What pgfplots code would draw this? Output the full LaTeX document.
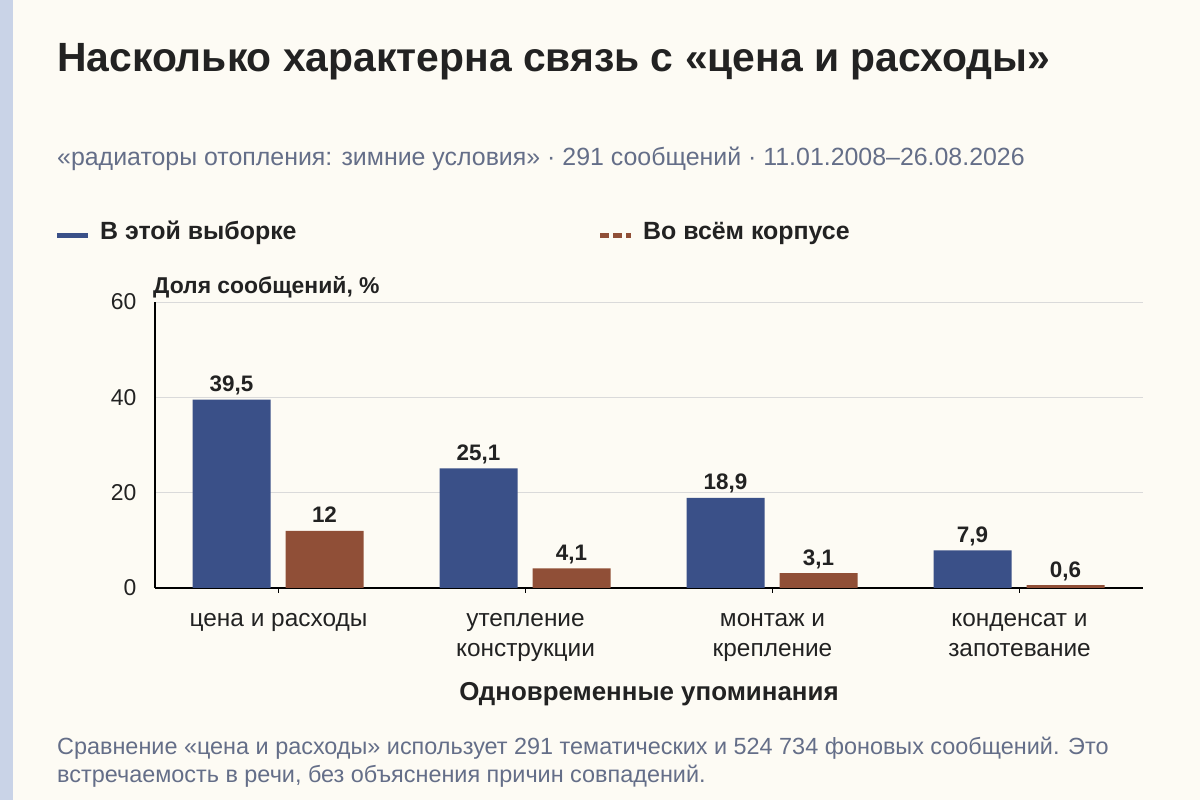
\documentclass[border=0pt]{standalone}
\usepackage{pgfplots}
\pgfplotsset{compat=1.18}
\usepackage{fontspec}
\setmainfont{Liberation Sans}
\definecolor{bg}{HTML}{FDFBF4}
\definecolor{stripe}{HTML}{C9D3E7}
\definecolor{cblue}{HTML}{3A5088}
\definecolor{cbrown}{HTML}{904F37}
\definecolor{txt}{HTML}{222222}
\definecolor{sub}{HTML}{646E88}
\definecolor{gridc}{HTML}{DADADA}
\begin{document}
\begin{tikzpicture}[x=1bp,y=1bp]
\useasboundingbox (0,0) rectangle (1200bp,800bp);
\fill[bg] (0,0) rectangle (1200bp,800bp);
\fill[stripe] (0,0) rectangle (13bp,800bp);
\node[anchor=base west, inner sep=0, text=txt] at (57bp,728bp) {\fontsize{41}{48}\selectfont\bfseries Насколько характерна связь с «цена и расходы»};
\node[anchor=base west, inner sep=0, text=sub] at (57bp,634bp) {\fontsize{25}{30}\selectfont «радиаторы отопления: зимние условия» · 291 сообщений · 11.01.2008–26.08.2026};
\draw[cblue, line width=5bp] (57bp,564bp) -- (88bp,564bp);
\node[anchor=base west, inner sep=0, text=txt] at (100bp,560bp) {\fontsize{25}{30}\selectfont\bfseries В этой выборке};
\draw[cbrown, line width=5bp, dash pattern=on 9bp off 4bp] (600bp,564bp) -- (631bp,564bp);
\node[anchor=base west, inner sep=0, text=txt] at (643bp,560bp) {\fontsize{25}{30}\selectfont\bfseries Во всём корпусе};
\node[anchor=base west, inner sep=0, text=txt] at (153bp,506bp) {\fontsize{23}{28}\selectfont\bfseries Доля сообщений, \%};
\begin{axis}[
  at={(155bp,212bp)}, anchor=south west,
  scale only axis, width=988bp, height=286bp,
  xmin=-0.5, xmax=3.5, ymin=0, ymax=60,
  ytick={0,20,40,60},
  xtick={0,1,2,3},
  xticklabels={{цена и расходы},{утепление\\конструкции},{монтаж и\\крепление},{конденсат и\\запотевание}},
  xticklabel style={align=center, font=\fontsize{24.5}{30}\selectfont, text=txt, yshift=-17bp},
  yticklabel style={font=\fontsize{23}{27}\selectfont, text=txt, xshift=-10bp},
  /pgf/number format/assume math mode=true,
  axis lines=left,
  axis line style={-, black, line width=1.3bp},
  ymajorgrids, grid style={gridc, line width=1bp},
  xtick style={draw=black, line width=1bp},
  ytick style={draw=none},
  tick align=outside, major tick length=5bp,
  ybar, bar width=78bp,
  nodes near coords,
  every node near coord/.append style={font=\fontsize{22.5}{26}\selectfont\bfseries, text=txt, /pgf/number format/use comma, /pgf/number format/assume math mode=true, anchor=base, inner sep=0pt, yshift=8bp},
  xlabel={Одновременные упоминания},
  xlabel style={font=\fontsize{26}{30}\selectfont\bfseries, text=txt, at={(axis description cs:0.5,0)}, anchor=base, yshift=-112bp, inner sep=0pt},
  clip=false,
]
\addplot[fill=cblue, draw=none, bar shift=-47bp] coordinates {(0,39.5) (1,25.1) (2,18.9) (3,7.9)};
\addplot[fill=cbrown, draw=none, bar shift=46bp] coordinates {(0,12) (1,4.1) (2,3.1) (3,0.6)};
\end{axis}
\node[anchor=base west, inner sep=0, text=sub] at (57bp,45bp) {\fontsize{23.5}{27}\selectfont Сравнение «цена и расходы» использует 291 тематических и 524 734 фоновых сообщений. Это};
\node[anchor=base west, inner sep=0, text=sub] at (57bp,18bp) {\fontsize{23.5}{27}\selectfont встречаемость в речи, без объяснения причин совпадений.};
\end{tikzpicture}
\end{document}
